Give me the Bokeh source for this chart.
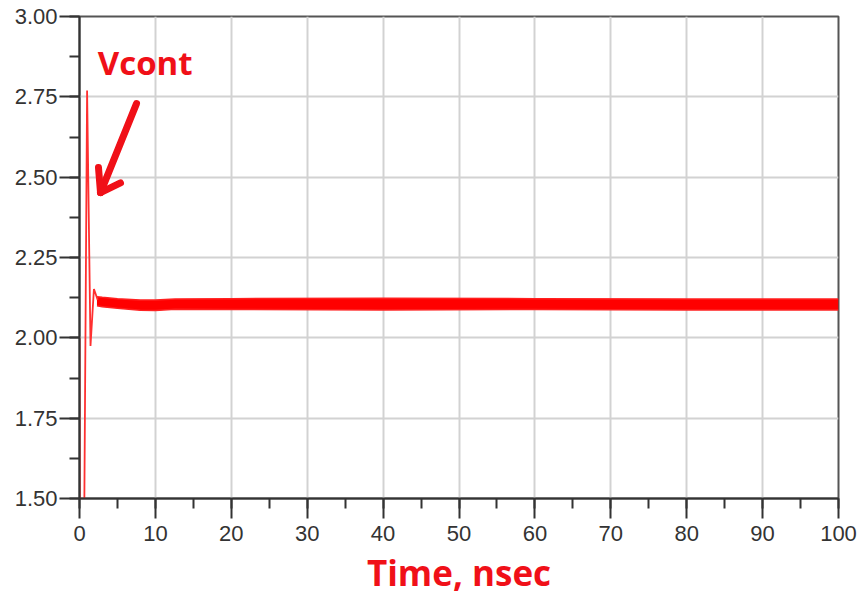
from bokeh.plotting import figure
from bokeh.models import Range1d, SingleIntervalTicker, PrintfTickFormatter, Label
from bokeh.embed import file_html
from bokeh.resources import INLINE

# Vcont start-up transient (time in ns, voltage in V)
t_transient = [0.0, 0.05, 0.6, 1.0, 1.45, 1.9, 2.4]
v_transient = [2.0, 1.35, 1.35, 2.77, 1.975, 2.152, 2.118]

# settled ripple band: upper and lower envelope of Vcont
t_band = [2.3, 3.0, 5.0, 8.0, 10.0, 12.6, 20.0, 40.0, 60.0, 80.0, 100.0]
v_upper = [2.128, 2.126, 2.122, 2.118, 2.118, 2.121, 2.122, 2.123, 2.122, 2.121, 2.121]
v_lower = [2.100, 2.097, 2.092, 2.086, 2.085, 2.089, 2.088, 2.087, 2.088, 2.087, 2.087]

RED = "#f01018"
GRID = "#d2d2d2"
AXIS = "#333333"

p = figure(width=859, height=598, output_backend="svg", toolbar_location=None,
           x_range=Range1d(0, 100), y_range=Range1d(1.5, 3.0),
           min_border_left=79, min_border_right=21, min_border_top=16,
           min_border_bottom=100)
p.background_fill_color = "white"
p.border_fill_color = "white"
p.outline_line_color = "#555555"
p.outline_line_width = 2

p.xaxis.ticker = SingleIntervalTicker(interval=10, num_minor_ticks=2)
p.yaxis.ticker = SingleIntervalTicker(interval=0.25, num_minor_ticks=2)
p.yaxis.formatter = PrintfTickFormatter(format="%.2f")

for ax in (p.xaxis, p.yaxis):
    ax.axis_line_color = AXIS
    ax.axis_line_width = 2
    ax.major_tick_line_color = AXIS
    ax.major_tick_line_width = 2
    ax.minor_tick_line_color = AXIS
    ax.minor_tick_line_width = 2
    ax.major_tick_in = 0
    ax.major_tick_out = 20
    ax.minor_tick_in = 0
    ax.minor_tick_out = 10
    ax.major_label_text_font = "Liberation Sans"
    ax.major_label_text_font_size = "22px"
    ax.major_label_text_color = AXIS

p.xaxis.major_label_standoff = 7
p.yaxis.major_label_standoff = 2

p.xaxis.axis_label = "Time, nsec"
p.xaxis.axis_label_text_font = "Open Sans"
p.xaxis.axis_label_text_font_style = "bold"
p.xaxis.axis_label_text_font_size = "35px"
p.xaxis.axis_label_text_color = RED
p.xaxis.axis_label_standoff = 5

p.grid.grid_line_color = GRID
p.grid.grid_line_width = 2

# ripple band, then the start-up transient on top
p.varea(x=t_band, y1=v_lower, y2=v_upper, fill_color="#ff0000", fill_alpha=1.0)
p.line(t_band, v_upper, line_color="#ff2020", line_width=1.5)
p.line(t_band, v_lower, line_color="#ff2020", line_width=1.5)
p.line(t_transient, v_transient, line_color="#ff3030", line_width=1.8)

# hand-drawn pointer to the trace
arrow_xs = [[7.51, 2.77], [2.77, 2.50], [2.77, 5.40]]
arrow_ys = [[2.729, 2.452], [2.452, 2.530], [2.452, 2.482]]
p.multi_line(arrow_xs, arrow_ys, line_color=RED, line_width=7, line_cap="round",
             line_join="round")

p.add_layout(Label(x=2.4, y=2.857, text="Vcont", text_font="Open Sans",
                   text_font_style="bold", text_font_size="33px",
                   text_color=RED, text_baseline="alphabetic"))

open("out.html", "w").write(file_html(p, INLINE))
